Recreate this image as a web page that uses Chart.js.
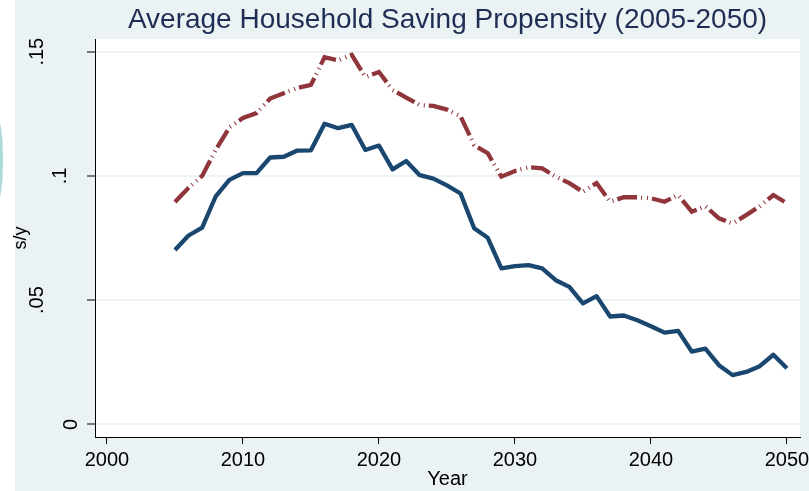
<!DOCTYPE html>
<html><head><meta charset="utf-8">
<script src="https://cdn.jsdelivr.net/npm/chart.js@4"></script>
<style>html,body{margin:0;padding:0;background:#fff}canvas{display:block}</style>
</head><body>
<canvas id="c" width="809" height="491"></canvas>
<script>
const years = [2005,2006,2007,2008,2009,2010,2011,2012,2013,2014,2015,2016,2017,2018,2019,2020,2021,2022,2023,2024,2025,2026,2027,2028,2029,2030,2031,2032,2033,2034,2035,2036,2037,2038,2039,2040,2041,2042,2043,2044,2045,2046,2047,2048,2049,2050];
const seriesSolid = [0.0702,0.0760,0.0792,0.0918,0.0984,0.1011,0.1011,0.1074,0.1077,0.1102,0.1103,0.1210,0.1192,0.1205,0.1104,0.1122,0.1026,0.1060,0.1003,0.0989,0.0962,0.0929,0.0789,0.0751,0.0628,0.0637,0.0641,0.0628,0.0580,0.0553,0.0487,0.0516,0.0434,0.0438,0.0419,0.0395,0.0369,0.0376,0.0293,0.0305,0.0238,0.0198,0.0211,0.0234,0.0280,0.0226];
const seriesDashed = [0.0895,0.0952,0.1000,0.1105,0.1195,0.1233,0.1253,0.1311,0.1333,0.1354,0.1366,0.1478,0.1465,0.1487,0.1398,0.1418,0.1346,0.1315,0.1285,0.1282,0.1267,0.1240,0.1124,0.1091,0.0997,0.1020,0.1035,0.1030,0.0997,0.0971,0.0936,0.0971,0.0896,0.0914,0.0914,0.0910,0.0896,0.0923,0.0856,0.0878,0.0829,0.0808,0.0842,0.0878,0.0923,0.0890];
const xTicks = [2000,2010,2020,2030,2040,2050];
const yTicks = [0,0.05,0.1,0.15];
const yTickLabels = ['0','.05','.1','.15'];
const titleText = 'Average Household Saving Propensity (2005-2050)';
const xTitle = 'Year';
const yTitle = 's/y';

const FONT = '"Liberation Sans", Arial, Helvetica, sans-serif';
const BG = '#EAF2F3';

const bgPlugin = {
  id: 'bg',
  beforeDraw(chart) {
    const ctx = chart.ctx, a = chart.chartArea;
    ctx.save();
    ctx.fillStyle = '#ffffff';
    ctx.fillRect(0, 0, chart.width, chart.height);
    ctx.fillStyle = BG;
    ctx.fillRect(15, 0, chart.width - 15, chart.height);
    ctx.fillStyle = '#ffffff';
    ctx.fillRect(a.left, a.top, a.right - a.left, a.bottom - a.top);
    ctx.fillStyle = 'rgba(90,185,180,0.5)';
    ctx.beginPath();
    ctx.ellipse(-2, 160, 5, 40, 0, 0, Math.PI * 2);
    ctx.fill();
    ctx.restore();
  }
};

const yLabelPlugin = {
  id: 'yLabels',
  afterDraw(chart) {
    const ctx = chart.ctx, s = chart.scales.y;
    ctx.save();
    ctx.font = '20px ' + FONT;
    ctx.fillStyle = '#000';
    ctx.textAlign = 'center';
    ctx.textBaseline = 'alphabetic';
    yTicks.forEach((v, i) => {
      const lab = yTickLabels[i];
      const w = ctx.measureText(lab).width;
      const y = s.getPixelForValue(v);
      const x = s.right + 4 - 2 * w;
      ctx.save();
      ctx.translate(x, y);
      ctx.rotate(-Math.PI / 2);
      ctx.fillText(lab, 0, 0);
      ctx.restore();
    });
    ctx.restore();
  }
};

new Chart(document.getElementById('c'), {
  type: 'line',
  data: {
    datasets: [
      {
        data: years.map((yr, i) => ({x: yr, y: seriesSolid[i]})),
        borderColor: '#1A476F',
        borderWidth: 4.3,
        pointRadius: 0,
        tension: 0,
        fill: false,
        borderJoinStyle: 'round'
      },
      {
        data: years.map((yr, i) => ({x: yr, y: seriesDashed[i]})),
        borderColor: '#90353B',
        borderWidth: 4.3,
        borderDash: [20, 4, 1, 5, 1, 4],
        pointRadius: 0,
        tension: 0,
        fill: false,
        borderJoinStyle: 'miter'
      }
    ]
  },
  options: {
    responsive: false,
    devicePixelRatio: 1,
    animation: false,
    layout: {padding: {left: 0, right: 9, top: 0, bottom: 0}},
    plugins: {
      legend: {display: false},
      tooltip: {enabled: false},
      title: {
        display: true,
        text: titleText,
        fullSize: false,
        color: '#1F2D55',
        font: {size: 28, family: FONT, weight: 'normal'},
        padding: {top: 3, bottom: 2.4}
      }
    },
    scales: {
      x: {
        type: 'linear',
        min: 1999.12,
        max: 2050.96,
        afterBuildTicks: s => { s.ticks = xTicks.map(v => ({value: v})); },
        afterFit: s => { s.height = 54; s.paddingLeft = 0; s.paddingRight = 0; },
        ticks: {
          color: '#000',
          font: {size: 20, family: FONT},
          padding: 4.5,
          maxRotation: 0,
          minRotation: 0,
          autoSkip: false,
          callback: v => String(v)
        },
        grid: {drawOnChartArea: false, drawTicks: true, tickLength: 7, tickColor: '#000', tickWidth: 1},
        border: {display: true, color: '#000', width: 1},
        title: {display: true, text: xTitle, color: '#000', font: {size: 20, family: FONT}, padding: {top: 0, bottom: 0}}
      },
      y: {
        type: 'linear',
        min: -0.0051,
        max: 0.1551,
        afterBuildTicks: s => { s.ticks = yTicks.map(v => ({value: v})); },
        afterFit: s => { s.width = 95; s.paddingTop = 0; s.paddingBottom = 0; },
        ticks: {display: false},
        grid: {color: BG, lineWidth: 2, drawTicks: true, tickLength: 8, tickColor: '#000', tickWidth: 1},
        border: {display: true, color: '#000', width: 1},
        title: {display: true, text: yTitle, color: '#000', font: {size: 18, family: FONT}, padding: {top: 10, bottom: 0}}
      }
    }
  },
  plugins: [bgPlugin, yLabelPlugin]
});
</script>
</body></html>
